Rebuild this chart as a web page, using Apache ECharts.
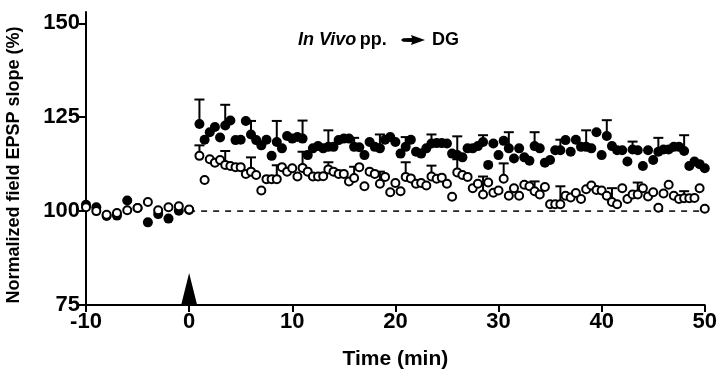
<!DOCTYPE html>
<html>
<head>
<meta charset="utf-8">
<script src="https://cdn.jsdelivr.net/npm/echarts@6/dist/echarts.min.js"></script>
<style>
  html, body { margin: 0; padding: 0; background: #fff; }
  #chart { width: 720px; height: 380px; }
</style>
</head>
<body>
<div id="chart"></div>
<script>
// baseline, one sample per minute
const baseTime = [-10, -9, -8, -7, -6, -5, -4, -3, -2, -1, 0];
const baseFilled = [101.7, 101, 98.7, 98.8, 102.8, 100.8, 97, 99.2, 98, 100.1, 100.3];
const baseOpen = [101, 100, 99, 99.5, 100.2, 100.8, 102.4, 100.2, 101, 101.3, 100.4];

// after tetanus, one sample every 0.5 min from t = 1 to 50
const postStart = 1;
const postStep = 0.5;
const postFilled = [
  123.2, 119, 121, 122.4, 119.6, 122.8, 124.1, 118.9, 119, 124, 120.4, 118.9, 117.5, 119, 114.7, 118.4, 116.7, 120, 119.3,
  119.7, 119.3, 114.9, 116.7, 117.3, 116.7, 117.1, 117.1, 118.9, 119.3, 119.3, 117.1, 117, 114.9, 118.4, 117.1, 116.7, 119, 119.7,
  118.4, 115.3, 117.1, 119, 115.8, 115.3, 116.7, 118, 118.1, 118.1, 118, 115.3, 114.9, 114.3, 116.7, 116.7, 117.3, 118.4, 112.3, 118, 114.9,
  118.7, 116.7, 114, 116.7, 114.3, 113.4, 117.3, 116.7, 112.9, 113.6, 116.2, 116.2, 118.9, 115.8, 119, 117.1, 117.1, 116.7, 121, 114.9,
  120, 117.3, 116.2, 116.2, 113.2, 116.4, 116.2, 112, 116.2, 113.6, 115.8, 116.4, 116.4, 117.1, 117.1, 116, 112, 113.2, 112.5, 111.4
];
const postOpen = [
  114.7, 108.3, 113.8, 112.9, 113.6, 112.3, 112, 111.7, 111.7, 109.9, 110.5, 109.6, 105.5, 108.5, 108.5, 108.5, 111.7, 110.5, 111.4,
  109.2, 111.5, 110.5, 109.2, 109.2, 109.3, 111.1, 110.5, 109.9, 109.9, 107.9, 108.8, 111.7, 106.6, 110.5, 109.9, 107.3, 109.1, 105,
  107.5, 105.3, 109.1, 108.7, 107.3, 107.5, 106.8, 109.2, 108.6, 108.9, 107.3, 103.8, 110.3, 109.6, 109.1, 106.1, 107.3, 104.4, 107.6, 104.9, 105.5,
  108.6, 104.1, 106.1, 104.1, 107, 106.6, 105.3, 104.4, 106.4, 101.8, 101.8, 101.8, 104.1, 103.6, 104.8, 103.2, 105.8, 106.8, 105.6, 105.5,
  104.1, 102.4, 101.8, 106.1, 103.2, 104.4, 104.4, 106.1, 103.9, 105, 100.9, 104.7, 107, 104.1, 103.2, 103.4, 103.4, 103.5, 106.1, 100.6
];

// error bars: [time, upper end]
const errFilled = [
  [1, 129.7], [3.5, 128.3], [6, 124], [8.5, 124], [11, 124.1], [13.5, 121.5], [16, 119.5], [18.5, 120.4],
  [21, 119.7], [23.5, 120.4], [26, 119.9], [28.5, 120.2], [31, 121], [33.5, 121], [36, 119], [38.5, 121.5],
  [40.5, 124.2], [43, 118.5], [45.5, 119.5], [48, 120.2]
];
const errOpen = [
  [1, 117.5], [3.5, 116], [6, 114.3], [8.5, 112.2], [11, 115.8], [13.5, 113], [16, 111.8], [18.5, 110.5],
  [21, 113], [23.5, 112.1], [26, 113.8], [28.5, 109.2], [30.5, 112.7], [33.5, 107.9], [36, 106.6], [41, 106.1],
  [43.5, 107.6], [48, 105.3]
];

const xTicks = [-10, 0, 10, 20, 30, 40, 50];
const yTicks = [75, 100, 125, 150];

const narrow = "'Liberation Sans Narrow', 'Liberation Sans', Arial, sans-serif";
const sans = "'Liberation Sans', Arial, sans-serif";

function toPairs(times, vals) {
  return vals.map((v, i) => [times[i], v]);
}
function postPairs(vals) {
  return vals.map((v, i) => [postStart + i * postStep, v]);
}
// bottom of each bar = the mean it belongs to
function errData(bars, vals) {
  return bars.map(b => {
    const i = Math.round((b[0] - postStart) / postStep);
    return [b[0], vals[i], b[1]];
  });
}

function errRender(params, api) {
  const lo = api.coord([api.value(0), api.value(1)]);
  const hi = api.coord([api.value(0), api.value(2)]);
  const w = 10;
  return {
    type: 'group',
    children: [
      { type: 'line', shape: { x1: lo[0], y1: lo[1], x2: hi[0], y2: hi[1] }, style: { stroke: '#000', lineWidth: 2 } },
      { type: 'line', shape: { x1: hi[0] - w / 2, y1: hi[1], x2: hi[0] + w / 2, y2: hi[1] }, style: { stroke: '#000', lineWidth: 2 } }
    ]
  };
}

const myChart = echarts.init(document.getElementById('chart'), null, { renderer: 'canvas' });

myChart.setOption({
  animation: false,
  backgroundColor: '#fff',
  grid: { left: 86, right: 13, top: 12, bottom: 75 },
  xAxis: {
    type: 'value',
    min: -10,
    max: 50,
    interval: 10,
    splitLine: { show: false },
    axisLine: { show: true, onZero: false, lineStyle: { color: '#000', width: 2 } },
    axisTick: { show: true, length: 7, lineStyle: { color: '#000', width: 2 }, customValues: xTicks },
    axisLabel: {
      color: '#000', fontSize: 22, fontWeight: 'bold', fontFamily: narrow, margin: 6,
      customValues: xTicks
    },
    name: 'Time (min)',
    nameLocation: 'middle',
    nameGap: 44,
    nameTextStyle: { color: '#000', fontSize: 21, fontWeight: 'bold', fontFamily: narrow }
  },
  yAxis: {
    type: 'value',
    min: 75,
    max: 153,
    splitLine: { show: false },
    axisLine: { show: true, onZero: false, lineStyle: { color: '#000', width: 2 } },
    axisTick: { show: true, length: 7, lineStyle: { color: '#000', width: 2 }, customValues: yTicks },
    axisLabel: {
      color: '#000', fontSize: 22, fontWeight: 'bold', fontFamily: sans, margin: 6,
      customValues: yTicks
    }
  },
  graphic: [
    {
      type: 'text',
      x: 14, y: 165,
      rotation: Math.PI / 2,
      style: {
        text: 'Normalized field EPSP slope (%)',
        fill: '#000', fontSize: 18, fontWeight: 'bold', fontFamily: sans,
        align: 'center', verticalAlign: 'middle'
      }
    },
    {
      type: 'text',
      x: 298, y: 40,
      style: {
        text: '{i|In Vivo} {b|pp.}',
        verticalAlign: 'middle',
        rich: {
          i: { fontSize: 18, fontWeight: 'bold', fontStyle: 'italic', fontFamily: sans, fill: '#000' },
          b: { fontSize: 18, fontWeight: 'bold', fontFamily: sans, fill: '#000' }
        }
      }
    },
    {
      // arrow between "pp." and "DG"
      type: 'polygon',
      shape: { points: [[401, 40], [403, 38.3], [412, 38], [411, 35], [425, 40], [411, 45], [412, 42], [403, 41.7]] },
      style: { fill: '#000' }
    },
    {
      type: 'text',
      x: 432, y: 40,
      style: { text: 'DG', fill: '#000', fontSize: 18, fontWeight: 'bold', fontFamily: sans, verticalAlign: 'middle' }
    }
  ],
  series: [
    {
      // dashed reference line at 100 %
      type: 'line',
      data: [[0, 100], [50, 100]],
      symbol: 'none',
      lineStyle: { color: '#000', width: 1.5, type: [6, 6] },
      z: 1,
      silent: true
    },
    {
      type: 'custom',
      renderItem: errRender,
      data: errData(errOpen, postOpen),
      encode: { x: 0, y: [1, 2] },
      z: 2
    },
    {
      type: 'custom',
      renderItem: errRender,
      data: errData(errFilled, postFilled),
      encode: { x: 0, y: [1, 2] },
      z: 2
    },
    {
      name: 'filled',
      type: 'scatter',
      data: toPairs(baseTime, baseFilled).concat(postPairs(postFilled)),
      symbol: 'circle',
      symbolSize: 10,
      itemStyle: { color: '#000', opacity: 1 },
      z: 3
    },
    {
      name: 'open',
      type: 'scatter',
      data: toPairs(baseTime, baseOpen).concat(postPairs(postOpen)),
      symbol: 'circle',
      symbolSize: 8,
      itemStyle: { color: '#fff', borderColor: '#000', borderWidth: 2, opacity: 1 },
      z: 4
    },
    {
      // tetanus marker
      type: 'scatter',
      data: [[0, 75]],
      symbol: 'triangle',
      symbolSize: [16, 32],
      symbolOffset: [0, '-50%'],
      itemStyle: { color: '#000', opacity: 1 },
      clip: false,
      z: 5
    }
  ]
});
</script>
</body>
</html>
